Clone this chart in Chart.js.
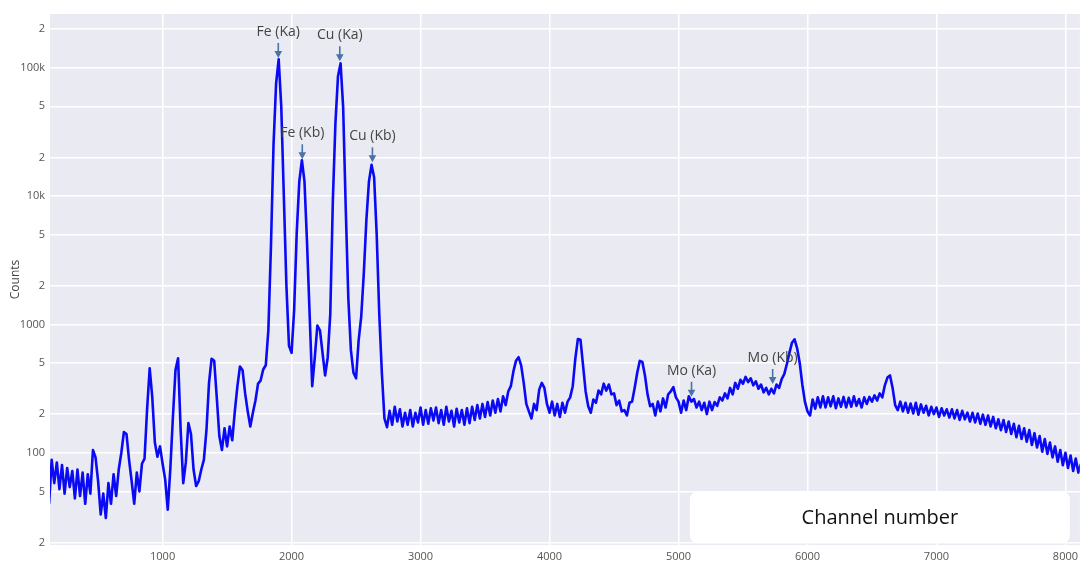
<!DOCTYPE html>
<html><head><meta charset="utf-8">
<script src="https://cdn.jsdelivr.net/npm/chart.js@4.4.1/dist/chart.umd.min.js"></script>
<style>html,body{margin:0;padding:0;background:#fff;}#wrap{width:1083px;height:562px;}</style>
</head><body><div id="wrap"><canvas id="c" width="1083" height="562"></canvas></div>
<script>
const channels = [
  120,140,160,180,200,220,240,260,280,300,
  320,340,360,380,400,420,440,460,480,500,
  520,540,560,580,600,620,640,660,680,700,
  720,740,760,780,800,820,840,860,880,900,
  920,940,960,980,1000,1020,1040,1060,1080,1100,
  1120,1140,1160,1180,1200,1220,1240,1260,1280,1300,
  1320,1340,1360,1380,1400,1420,1440,1460,1480,1500,
  1520,1540,1560,1580,1600,1620,1640,1660,1680,1700,
  1720,1740,1760,1780,1800,1820,1840,1860,1880,1900,
  1920,1940,1960,1980,2000,2020,2040,2060,2080,2100,
  2120,2140,2160,2180,2200,2220,2240,2260,2280,2300,
  2320,2340,2360,2380,2400,2420,2440,2460,2480,2500,
  2520,2540,2560,2580,2600,2620,2640,2660,2680,2700,
  2720,2740,2760,2780,2800,2820,2840,2860,2880,2900,
  2920,2940,2960,2980,3000,3020,3040,3060,3080,3100,
  3120,3140,3160,3180,3200,3220,3240,3260,3280,3300,
  3320,3340,3360,3380,3400,3420,3440,3460,3480,3500,
  3520,3540,3560,3580,3600,3620,3640,3660,3680,3700,
  3720,3740,3760,3780,3800,3820,3840,3860,3880,3900,
  3920,3940,3960,3980,4000,4020,4040,4060,4080,4100,
  4120,4140,4160,4180,4200,4220,4240,4260,4280,4300,
  4320,4340,4360,4380,4400,4420,4440,4460,4480,4500,
  4520,4540,4560,4580,4600,4620,4640,4660,4680,4700,
  4720,4740,4760,4780,4800,4820,4840,4860,4880,4900,
  4920,4940,4960,4980,5000,5020,5040,5060,5080,5100,
  5120,5140,5160,5180,5200,5220,5240,5260,5280,5300,
  5320,5340,5360,5380,5400,5420,5440,5460,5480,5500,
  5520,5540,5560,5580,5600,5620,5640,5660,5680,5700,
  5720,5740,5760,5780,5800,5820,5840,5860,5880,5900,
  5920,5940,5960,5980,6000,6020,6040,6060,6080,6100,
  6120,6140,6160,6180,6200,6220,6240,6260,6280,6300,
  6320,6340,6360,6380,6400,6420,6440,6460,6480,6500,
  6520,6540,6560,6580,6600,6620,6640,6660,6680,6700,
  6720,6740,6760,6780,6800,6820,6840,6860,6880,6900,
  6920,6940,6960,6980,7000,7020,7040,7060,7080,7100,
  7120,7140,7160,7180,7200,7220,7240,7260,7280,7300,
  7320,7340,7360,7380,7400,7420,7440,7460,7480,7500,
  7520,7540,7560,7580,7600,7620,7640,7660,7680,7700,
  7720,7740,7760,7780,7800,7820,7840,7860,7880,7900,
  7920,7940,7960,7980,8000,8020,8040,8060,8080,8100,
  8120
];
const counts = [
  40,88,58,84,52,80,48,76,54,72,
  44,74,46,70,40,68,48,105,92,60,
  33,48,31,58,40,68,46,74,100,145,
  140,88,60,40,70,50,82,90,220,455,
  270,120,93,112,82,62,36,75,190,440,
  545,150,58,84,170,140,74,55,60,74,
  88,150,350,540,520,270,135,105,155,112,
  160,125,210,330,470,440,290,210,160,205,
  255,345,365,445,480,900,4000,25000,75000,116000,
  50000,10000,2000,680,600,1300,5200,13000,19000,13000,
  4300,1200,330,550,980,900,600,400,550,1200,
  9200,37000,86000,108000,49000,8000,1600,630,420,380,
  750,1150,2500,6500,13000,17500,14000,5000,1200,420,
  185,158,212,165,228,175,218,160,205,165,
  215,160,205,172,225,165,215,168,222,178,
  225,170,215,165,228,175,212,160,220,172,
  215,165,222,170,228,180,235,185,240,190,
  248,195,255,205,262,210,275,235,300,330,
  430,520,555,480,350,240,210,185,240,215,
  310,350,320,240,205,250,195,240,190,245,
  205,250,270,330,540,770,760,480,300,230,
  205,260,245,305,285,345,305,340,285,290,
  235,255,210,215,195,245,250,320,420,520,
  510,400,285,230,240,195,250,210,265,225,
  285,300,325,270,250,205,255,215,275,250,
  262,225,250,215,245,200,250,215,248,232,
  270,255,290,265,320,285,350,315,370,345,
  390,355,380,335,360,315,340,295,320,285,
  315,290,340,320,375,410,490,600,720,765,
  650,500,340,250,210,195,260,220,270,225,
  275,225,270,230,275,222,265,228,272,225,
  268,228,275,232,262,225,270,240,272,250,
  280,255,290,270,335,385,400,320,235,215,
  250,210,245,205,242,202,245,198,238,205,
  232,195,228,200,225,190,222,195,218,188,
  218,185,215,180,212,182,205,175,205,172,
  202,168,198,165,195,160,190,155,182,150,
  180,145,175,140,168,132,162,128,155,122,
  150,115,142,110,135,102,128,98,120,92,
  112,85,105,80,100,76,95,72,90,70,
  82
];
const xTicks = [1000,2000,3000,4000,5000,6000,7000,8000];
const yTicks = [20,50,100,200,500,1000,2000,5000,10000,20000,50000,100000,200000];
const yTickLabels = ['2','5','100','2','5','1000','2','5','10k','2','5','100k','2'];
const peakLabels = ['Fe (Ka)','Fe (Kb)','Cu (Ka)','Cu (Kb)','Mo (Ka)','Mo (Kb)'];
const peakChannels = [1897,2083,2374,2627,5101,5730];
const peakCounts = [117000,19000,110000,18000,268,337];
const xTitle = 'Channel number';
const yTitle = 'Counts';

const points = channels.map((c,i)=>({x:c,y:counts[i]}));

const bgPlugin = {
  id:'bg',
  beforeDraw(chart){
    const {ctx, chartArea:a} = chart;
    ctx.save(); ctx.fillStyle='#EAEAF2';
    ctx.fillRect(a.left,a.top,a.right-a.left,a.bottom-a.top);
    ctx.restore();
  }
};
const annotPlugin = {
  id:'annot',
  afterDatasetsDraw(chart){
    const {ctx, scales:{x,y}} = chart;
    ctx.save();
    peakLabels.forEach((lab,i)=>{
      const px = x.getPixelForValue(peakChannels[i]);
      const tip = y.getPixelForValue(peakCounts[i]) - 1;
      ctx.strokeStyle='#4a72a8'; ctx.fillStyle='#4a72a8'; ctx.lineWidth=1.6;
      ctx.beginPath(); ctx.moveTo(px,tip-15); ctx.lineTo(px,tip-6); ctx.stroke();
      ctx.beginPath(); ctx.moveTo(px-3.8,tip-7); ctx.lineTo(px+3.8,tip-7); ctx.lineTo(px,tip); ctx.closePath(); ctx.fill();
      ctx.fillStyle='#444'; ctx.font='14px "Open Sans"'; ctx.textAlign='center'; ctx.textBaseline='middle';
      ctx.fillText(lab,px,tip-26);
    });
    ctx.restore();
  }
};
const boxPlugin = {
  id:'xbox',
  afterDraw(chart){
    const {ctx, chartArea:a} = chart;
    const r = a.right-10, l = r-380, b = a.bottom-2, t = b-51, rad = 8;
    ctx.save();
    ctx.fillStyle='#ffffff';
    ctx.beginPath();
    ctx.moveTo(l+rad,t); ctx.lineTo(r-rad,t); ctx.quadraticCurveTo(r,t,r,t+rad);
    ctx.lineTo(r,b-rad); ctx.quadraticCurveTo(r,b,r-rad,b);
    ctx.lineTo(l+rad,b); ctx.quadraticCurveTo(l,b,l,b-rad);
    ctx.lineTo(l,t+rad); ctx.quadraticCurveTo(l,t,l+rad,t); ctx.closePath(); ctx.fill();
    ctx.fillStyle='#111'; ctx.font='20px "Open Sans"'; ctx.textAlign='center'; ctx.textBaseline='middle';
    ctx.fillText(xTitle,(l+r)/2,(t+b)/2+1);
    ctx.restore();
  }
};

new Chart(document.getElementById('c'),{
  type:'line',
  data:{datasets:[{data:points,borderColor:'#0a0af5',borderWidth:2.6,pointRadius:0,tension:0,fill:false,borderJoinStyle:'round'}]},
  options:{
    responsive:false, animation:false, devicePixelRatio:1,
    layout:{padding:{top:14,right:0,left:0,bottom:0}},
    plugins:{legend:{display:false},tooltip:{enabled:false}},
    scales:{
      x:{type:'linear',min:127,max:8112,
        afterBuildTicks(s){s.ticks=xTicks.map(v=>({value:v}));},
        afterFit(s){s.height=17;},
        grid:{color:'#ffffff',lineWidth:1.5,drawTicks:false},
        border:{display:false},
        ticks:{padding:5,maxRotation:0,color:'#555',font:{family:'Open Sans',size:11},
          callback(v){return String(v);}}
      },
      y:{type:'logarithmic',min:19.1,max:262000,
        afterBuildTicks(s){s.ticks=yTicks.map(v=>({value:v}));},
        afterFit(s){s.width=50;},
        grid:{color:'#ffffff',lineWidth:1.5,drawTicks:false},
        border:{display:false},
        ticks:{padding:5,color:'#555',font:{family:'Open Sans',size:11},
          callback(v,i){return yTickLabels[i];}},
        title:{display:true,text:yTitle,color:'#444',font:{family:'Open Sans',size:12},padding:{top:8,bottom:0}}
      }
    }
  },
  plugins:[bgPlugin,annotPlugin,boxPlugin]
});
</script></body></html>
